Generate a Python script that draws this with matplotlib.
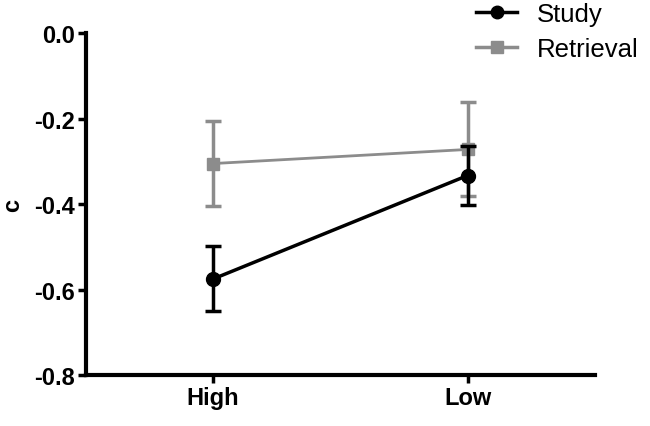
import numpy as np
import matplotlib
matplotlib.use("Agg")
import matplotlib.pyplot as plt
from matplotlib.lines import Line2D

plt.rcParams['font.family'] = ['Liberation Sans', 'DejaVu Sans']

# Data
conditions = ["High", "Low"]
study = [-0.575, -0.333]
study_err = [0.076, 0.07]
retrieval = [-0.305, -0.272]
retrieval_err = [0.10, 0.11]
yticks = [0.0, -0.2, -0.4, -0.6, -0.8]

x = np.arange(len(conditions))
grey = "#8c8c8c"

fig = plt.figure(figsize=(6.5, 4.27), dpi=100)
ax = fig.add_axes([0.132, 0.119, 0.783, 0.801])

ax.errorbar(x, retrieval, yerr=retrieval_err, color=grey, marker="s",
            markersize=9, linewidth=2, elinewidth=2.5, capsize=6, capthick=2.5,
            zorder=2)
ax.errorbar(x, study, yerr=study_err, color="black", marker="o",
            markersize=10, linewidth=2.5, elinewidth=2.5, capsize=6, capthick=2.5,
            zorder=3)

ax.set_xlim(-0.5, 1.5)
ax.set_ylim(-0.8, 0.0)
ax.set_yticks(yticks)
ax.set_yticklabels(["%.1f" % v for v in yticks])
ax.set_xticks(x)
ax.set_xticklabels(conditions)

for lbl in ax.get_xticklabels() + ax.get_yticklabels():
    lbl.set_fontweight("bold")
    lbl.set_fontsize(17)

ax.spines["top"].set_visible(False)
ax.spines["right"].set_visible(False)
ax.spines["left"].set_linewidth(3)
ax.spines["bottom"].set_linewidth(3)
ax.tick_params(axis="both", direction="out", length=6, width=2.5, pad=2)

ax.set_ylabel("c", fontsize=17, fontweight="bold")
ax.yaxis.set_label_coords(-0.122, 0.5)

handles = [
    Line2D([], [], color="black", marker="o", markersize=9, linewidth=2.5),
    Line2D([], [], color=grey, marker="s", markersize=8, linewidth=2.5),
]
fig.legend(handles, ["Study", "Retrieval"], loc="upper left",
           bbox_to_anchor=(0.713, 1.022), frameon=False, fontsize=18.5,
           borderpad=0, handlelength=1.6, handletextpad=0.75,
           labelspacing=0.4)

fig.savefig("out.png", dpi=100)
